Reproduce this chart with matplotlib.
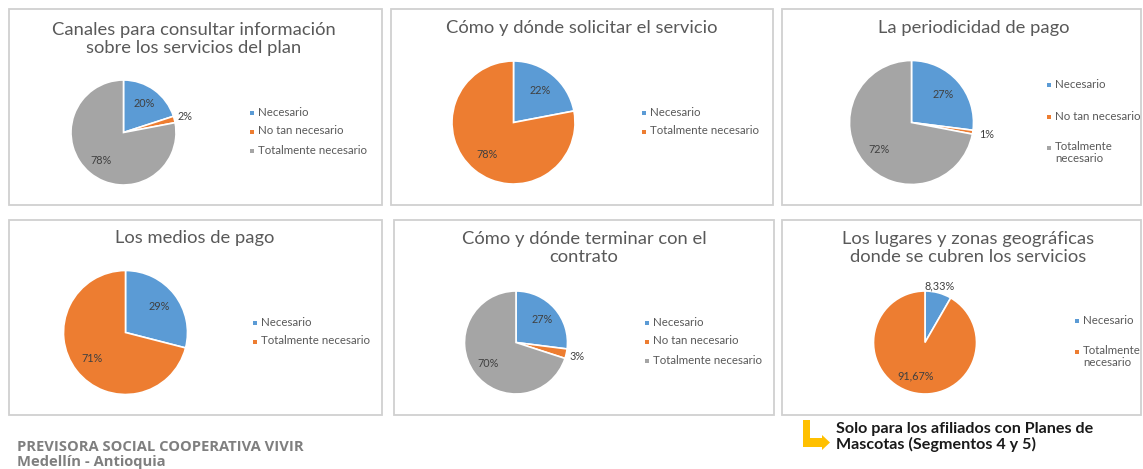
import matplotlib
matplotlib.use("Agg")
import matplotlib.pyplot as plt
import numpy as np
from matplotlib.patches import Rectangle, Polygon

W, H = 1143, 469

# --- data ---
cats_three = ["Necesario", "No tan necesario", "Totalmente necesario"]
cats_two = ["Necesario", "Totalmente necesario"]

canales_vals = [20, 2, 78]
solicitar_vals = [22, 78]
periodicidad_vals = [27, 1, 72]
medios_vals = [29, 71]
terminar_vals = [27, 3, 70]
lugares_vals = [8.33, 91.67]

titles = [
    "Canales para consultar información\nsobre los servicios del plan",
    "Cómo y dónde solicitar el servicio",
    "La periodicidad de pago",
    "Los medios de pago",
    "Cómo y dónde terminar con el\ncontrato",
    "Los lugares y zonas geográficas\ndonde se cubren los servicios",
]

footer_org = "PREVISORA SOCIAL COOPERATIVA VIVIR"
footer_city = "Medellín - Antioquia"
note = "Solo para los afiliados con Planes de\nMascotas (Segmentos 4 y 5)"

colors = ["#5B9BD5", "#ED7D31", "#A5A5A5"]
title_color = "#595959"
text_color = "#595959"
FONT = "Lato"

# panel layout: box, title center, pie center + radius, legend x, legend rows
panels = [
    dict(vals=canales_vals, cats=cats_three, box=(9, 9, 382, 205), tx=194, ty=39,
         pie=(123.5, 132.5, 52.5), lx=252, ly=[113, 132, 151], wrap=False),
    dict(vals=solicitar_vals, cats=cats_two, box=(391, 9, 773, 205), tx=582, ty=28,
         pie=(513.5, 122.5, 61.5), lx=644, ly=[113, 132], wrap=False),
    dict(vals=periodicidad_vals, cats=cats_three, box=(782, 9, 1141, 205), tx=974, ty=28,
         pie=(911.5, 122.5, 62), lx=1049, ly=[85, 117, 148], wrap=True),
    dict(vals=medios_vals, cats=cats_two, box=(9, 220, 382, 415), tx=195, ty=238,
         pie=(125.5, 332.5, 62), lx=255, ly=[323, 342], wrap=False),
    dict(vals=terminar_vals, cats=cats_three, box=(394, 220, 774, 415), tx=584, ty=248,
         pie=(516, 342.5, 51.5), lx=647, ly=[323, 342, 361], wrap=False),
    dict(vals=lugares_vals, cats=cats_two, box=(782, 220, 1141, 415), tx=968, ty=248,
         pie=(925, 342.5, 51.5), lx=1077, ly=[321, 352], wrap=True),
]

fig = plt.figure(figsize=(W / 100, H / 100), dpi=100)
fig.patch.set_facecolor("white")

# overlay axes in pixel coordinates
ov = fig.add_axes([0, 0, 1, 1])
ov.set_xlim(0, W)
ov.set_ylim(H, 0)
ov.axis("off")


def pct_text(v):
    return f"{v:g}%".replace(".", ",")


for p, title in zip(panels, titles):
    x0, y0, x1, y1 = p["box"]
    ov.add_patch(Rectangle((x0, y0), x1 - x0, y1 - y0, fill=False,
                           edgecolor="#D0D0D0", linewidth=1.3))
    ov.text(p["tx"], p["ty"], title, ha="center", va="center", fontsize=13.2,
            color=title_color, family=FONT, linespacing=1.2)

    cx, cy, r = p["pie"]
    ax = fig.add_axes([(cx - r) / W, 1 - (cy + r) / H, 2 * r / W, 2 * r / H])
    wedges, _ = ax.pie(p["vals"], colors=colors[:len(p["vals"])], startangle=90,
                       counterclock=False, radius=1,
                       wedgeprops=dict(edgecolor="white", linewidth=1.2))
    ax.set_xlim(-1, 1)
    ax.set_ylim(-1, 1)
    ax.set_aspect("equal")
    for w, v in zip(wedges, p["vals"]):
        ang = np.deg2rad((w.theta1 + w.theta2) / 2)
        d = 0.68 if v >= 5 else 1.22
        if 5 <= v < 10:
            d = 1.13
        ax.text(d * np.cos(ang), d * np.sin(ang), pct_text(v), ha="center",
                va="center", fontsize=7.8, color="#404040", family=FONT)

    for cat, col, yy in zip(p["cats"], colors, p["ly"]):
        label = cat
        if p["wrap"] and cat == "Totalmente necesario":
            label = "Totalmente\nnecesario"
        ov.scatter([p["lx"]], [yy], marker="s", s=12, color=col, linewidths=0)
        ov.text(p["lx"] + 6, yy - 6.5, label, ha="left", va="top", fontsize=8.3,
                color=text_color, family=FONT, linespacing=1.1)

# footer
ov.text(17, 447, footer_org, ha="left", va="center", fontsize=10.6, fontweight="bold",
        color="#7F7F7F", family="Open Sans")
ov.text(17, 462, footer_city, ha="left", va="center", fontsize=10.6, fontweight="bold",
        color="#7F7F7F", family="Open Sans")

# yellow L arrow
arrow = Polygon([(803, 420), (810, 420), (810, 438), (822, 438), (822, 435),
                 (830, 442.5), (822, 450), (822, 447), (803, 447)],
                closed=True, facecolor="#FFC000", edgecolor="none")
ov.add_patch(arrow)
ov.text(836, 437, note, ha="left", va="center", fontsize=11.6, fontweight="bold",
        color="#1A1A1A", family=FONT, linespacing=1.15)

fig.savefig("out.png", dpi=100, facecolor="white")
